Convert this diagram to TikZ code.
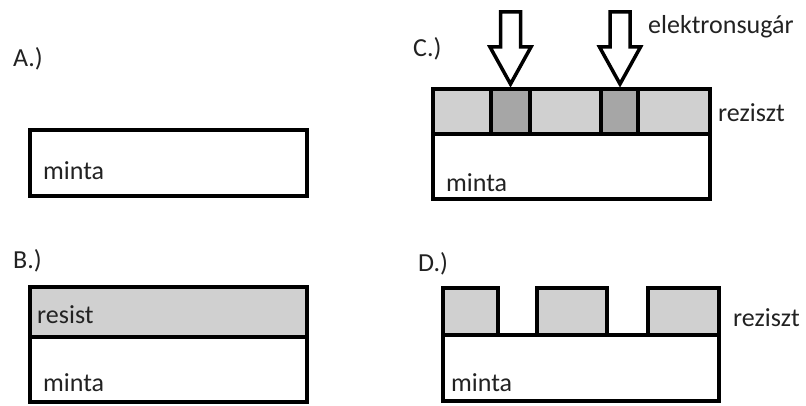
\documentclass[tikz,border=0pt]{standalone}
\usepackage{fontspec}
\setmainfont{Carlito}
\definecolor{lightres}{HTML}{D0D0D0}
\definecolor{darkres}{HTML}{A6A6A6}
\definecolor{txt}{HTML}{222222}
\begin{document}
\begin{tikzpicture}[x=1pt,y=-1pt,
  layer/.style={draw=black,line width=4pt,line join=miter},
  lbl/.style={anchor=base west,inner sep=0pt,text=txt,font=\fontsize{26}{30}\selectfont},
  beam/.style={draw=black,fill=white,line width=3.5pt,line join=miter}]
\useasboundingbox (0,0) rectangle (806,406);
% ---------- A ----------
\node[lbl] (lA) at (13,67) {A.)};
\draw[layer,fill=white] (30,130) rectangle (307,196);
\node[lbl] (mA) at (43,180) {minta};
% ---------- B ----------
\node[lbl] (lB) at (13,269) {B.)};
\draw[layer,fill=lightres] (30,287) rectangle (307,337);
\draw[layer,fill=white] (30,337) rectangle (307,402);
\node[lbl] (rB) at (37,323) {resist};
\node[lbl] (mB) at (43,391) {minta};
% ---------- C ----------
\node[lbl] (lC) at (413,57) {C.)};
\draw[layer,fill=lightres] (433,89) rectangle (710,134);
\draw[layer,fill=darkres] (490.5,89) rectangle (529.5,134);
\draw[layer,fill=darkres] (601,89) rectangle (638,134);
\draw[layer,fill=white] (433,134) rectangle (710,199);
\draw[beam] (500.5,12) -- (520.5,12) -- (520.5,47) -- (531,47) -- (510.5,84)
  -- (490,47) -- (500.5,47) -- cycle;
\draw[beam] (610,12) -- (630,12) -- (630,47) -- (640.5,47) -- (620,84)
  -- (599.5,47) -- (610,47) -- cycle;
\node[lbl] (eC) at (648,34) {elektronsugár};
\node[lbl] (rC) at (718,122) {reziszt};
\node[lbl] (mC) at (446,192) {minta};
% ---------- D ----------
\node[lbl] (lD) at (418,271) {D.)};
\draw[layer,fill=lightres] (443,288) rectangle (498,335);
\draw[layer,fill=lightres] (537,288) rectangle (607,335);
\draw[layer,fill=lightres] (648,288) rectangle (719,335);
\draw[layer,fill=white] (443,335) rectangle (719,401);
\node[lbl] (rD) at (733,326) {reziszt};
\node[lbl] (mD) at (451,391) {minta};
\end{tikzpicture}
\end{document}
